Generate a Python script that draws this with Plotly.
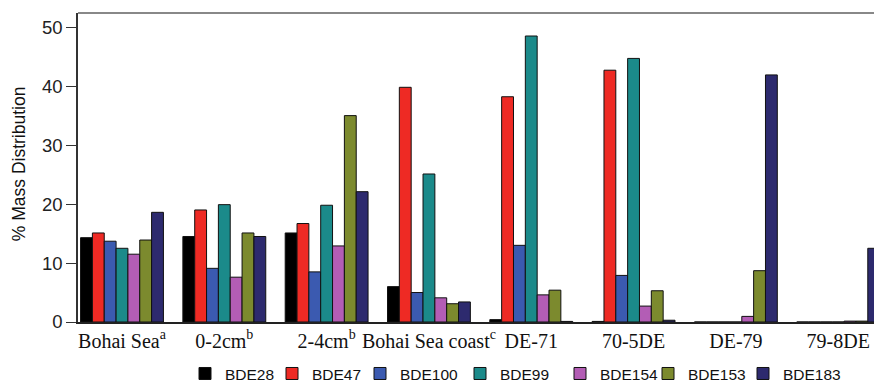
import plotly.graph_objects as go

categories = ["Bohai Sea", "0-2cm", "2-4cm", "Bohai Sea coast", "DE-71", "70-5DE", "DE-79", "79-8DE"]
tick_labels = ["Bohai Sea<sup>a</sup>", "0-2cm<sup>b</sup>", "2-4cm<sup>b</sup>", "Bohai Sea coast<sup>c</sup>",
               "DE-71", "70-5DE", "DE-79", "79-8DE"]

series_names = ["BDE28", "BDE47", "BDE100", "BDE99", "BDE154", "BDE153", "BDE183"]
bde28 = [14.3, 14.5, 15.1, 6.0, 0.4, 0.1, 0.0, 0.0]
bde47 = [15.1, 19.0, 16.7, 39.8, 38.2, 42.7, 0.0, 0.0]
bde100 = [13.7, 9.1, 8.5, 5.0, 13.0, 7.9, 0.0, 0.0]
bde99 = [12.5, 19.9, 19.8, 25.1, 48.5, 44.7, 0.0, 0.0]
bde154 = [11.5, 7.6, 12.9, 4.1, 4.6, 2.7, 0.95, 0.15]
bde153 = [13.9, 15.1, 35.0, 3.1, 5.4, 5.3, 8.7, 0.15]
bde183 = [18.6, 14.5, 22.1, 3.4, 0.1, 0.3, 41.9, 12.5]
series_values = [bde28, bde47, bde100, bde99, bde154, bde153, bde183]
colors = ["#000000", "#ee2a24", "#3b5ab0", "#1b8a8a", "#b35db5", "#7c8a2e", "#2d2a6e"]

# layout: pixel x of each legend entry's start (one small legend per series)
legend_px = [185, 272, 360, 460, 560, 648, 743]
plot_left, plot_width = 78, 796

legend_font = dict(family="Liberation Sans, Arial", size=15.5, color="#111")
fig = go.Figure()
legends = {}
for i, (name, vals, col) in enumerate(zip(series_names, series_values, colors)):
    lid = "legend" if i == 0 else f"legend{i + 1}"
    fig.add_trace(go.Bar(
        x=categories, y=vals, name=name, legend=lid,
        marker=dict(color=col, line=dict(color="#111111", width=1)),
    ))
    legends[lid] = dict(
        orientation="h", x=(legend_px[i] - plot_left) / plot_width, y=-0.168,
        xanchor="left", yanchor="middle", bgcolor="rgba(0,0,0,0)",
        font=legend_font, itemwidth=30, tracegroupgap=0,
    )

fig.update_layout(
    width=874, height=384,
    margin=dict(l=78, r=0, t=13, b=62, autoexpand=False),
    paper_bgcolor="white", plot_bgcolor="white",
    barmode="group", bargap=0.19, bargroupgap=0,
    showlegend=True,
    font=dict(family="Liberation Sans, Arial", color="#111"),
    **legends,
)
fig.update_xaxes(
    tickmode="array", tickvals=categories, ticktext=tick_labels,
    range=[-0.43, 7.35], showline=True, linecolor="#222", linewidth=1.5,
    ticks="", showgrid=False, zeroline=False, automargin=False,
    tickfont=dict(family="Liberation Serif, Times New Roman", size=20, color="#111"),
)
fig.update_yaxes(
    range=[0, 52.4], tickvals=[0, 10, 20, 30, 40, 50],
    showline=True, linecolor="#333", linewidth=1.5,
    ticks="outside", ticklen=10, tickwidth=1.2, tickcolor="#333",
    showgrid=False, zeroline=False, automargin=False,
    tickfont=dict(family="Liberation Sans, Arial", size=18.5, color="#222"),
)
fig.add_shape(type="line", xref="paper", yref="paper", x0=0, x1=1, y0=1, y1=1,
              line=dict(color="#888888", width=2))
fig.add_annotation(text="% Mass Distribution", xref="paper", yref="paper",
                   x=-0.074, y=0.511, xanchor="center", yanchor="middle",
                   textangle=-90, showarrow=False,
                   font=dict(family="Liberation Sans, Arial", size=17.5, color="#111"))

fig.write_html(
    "out.html",
    config={"displayModeBar": False},
    post_script="document.body.style.margin='0';document.body.style.padding='0';"
                "document.body.style.overflow='hidden';",
)
